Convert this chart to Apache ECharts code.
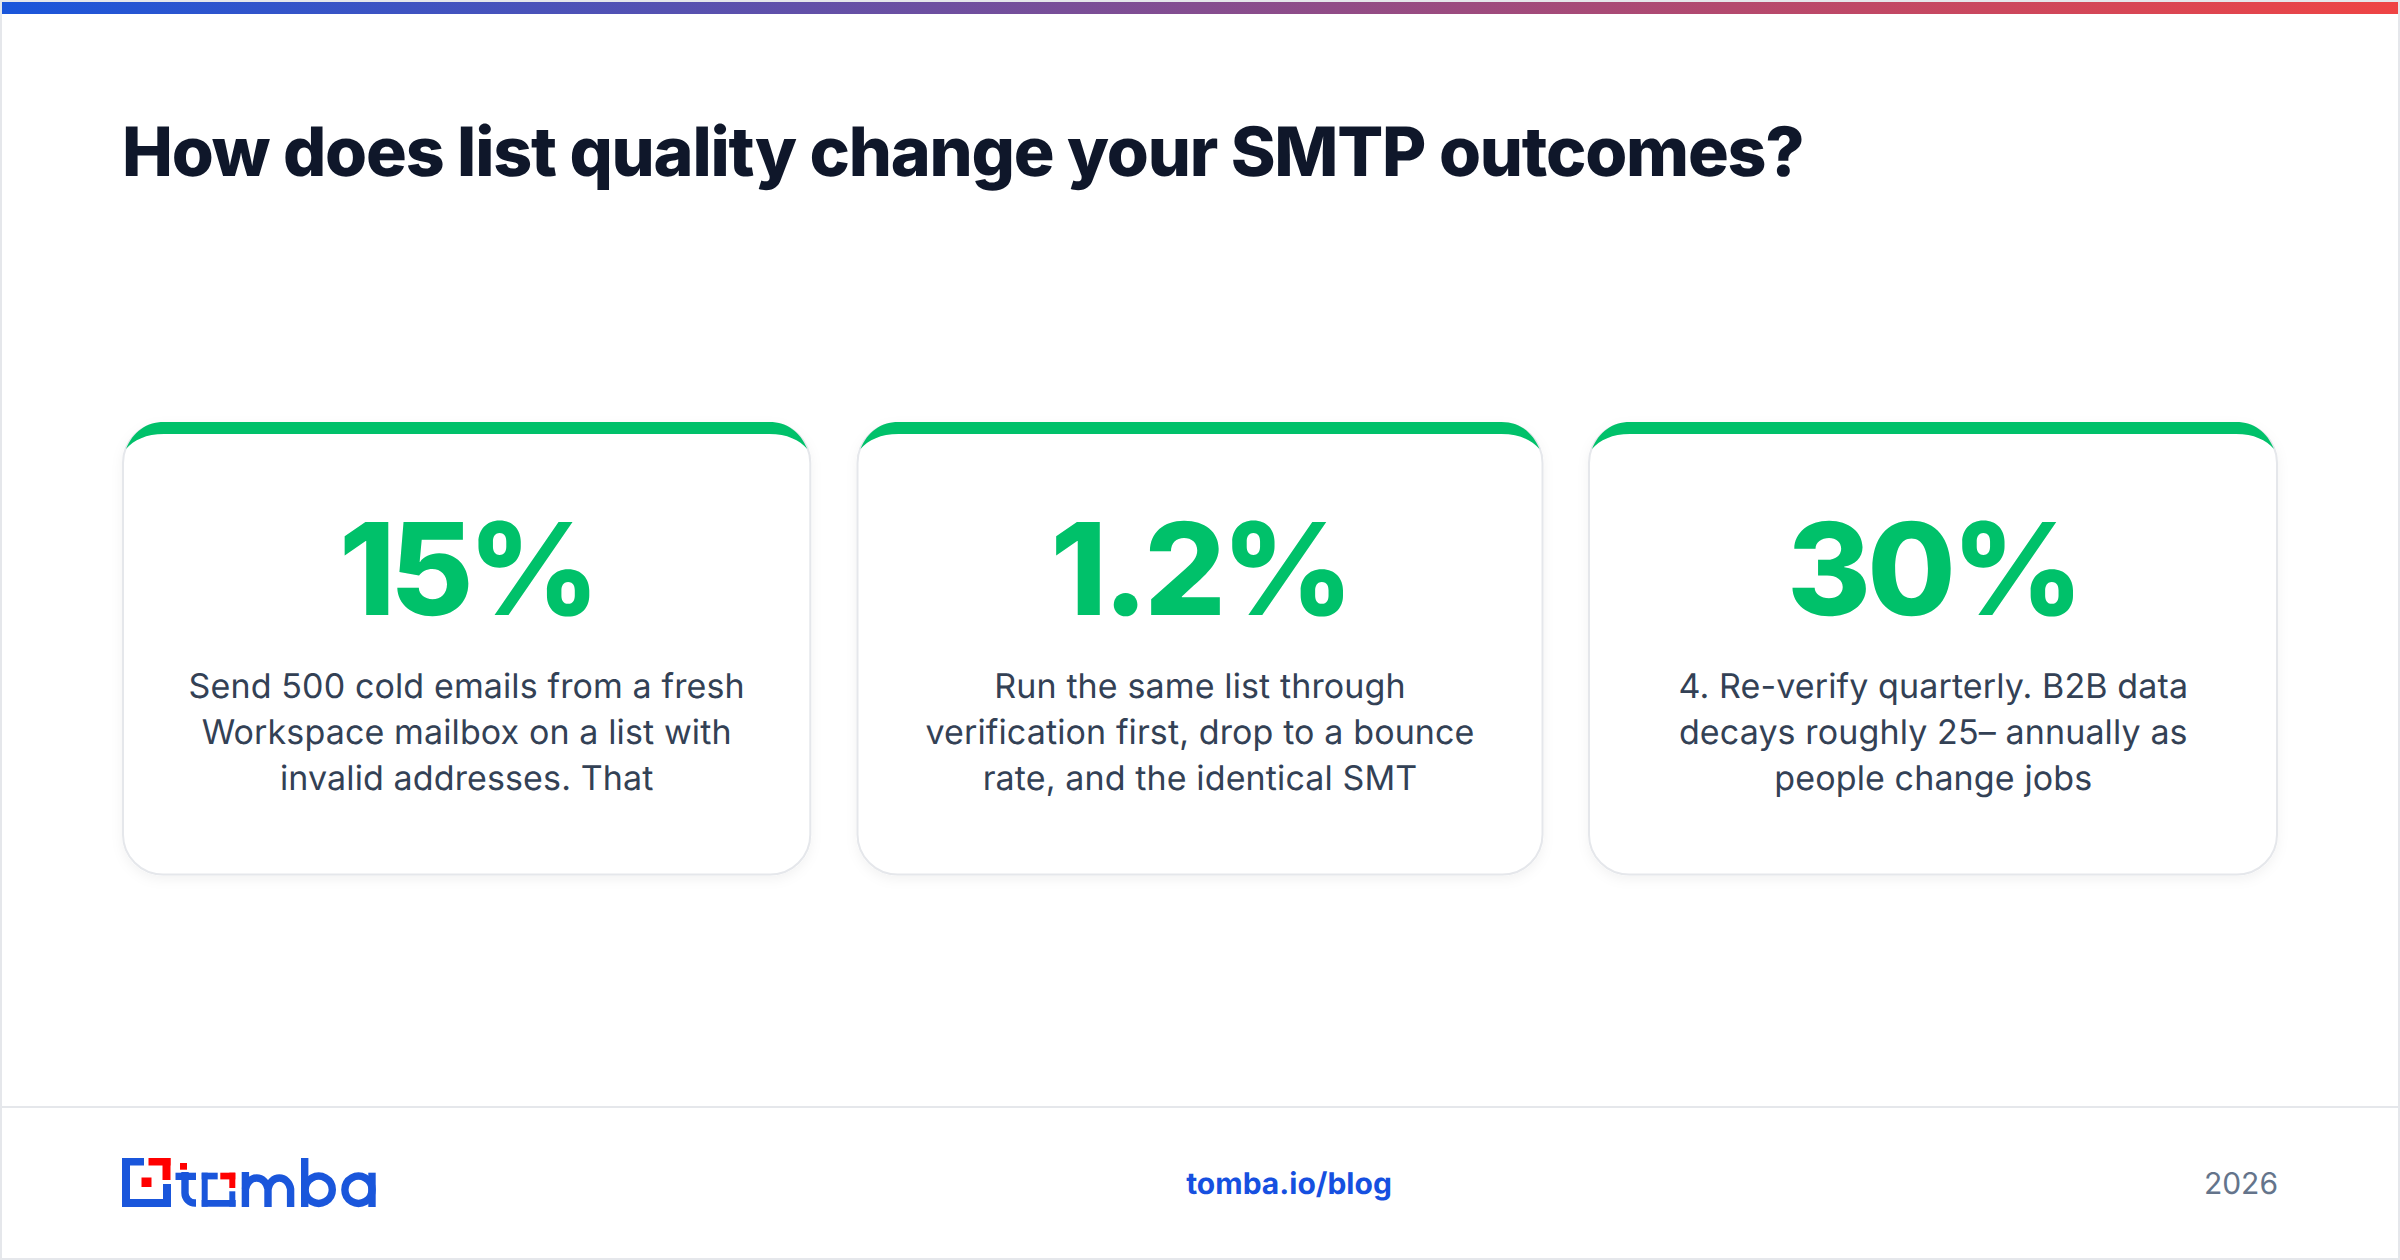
<!DOCTYPE html>
<html><head><meta charset="utf-8"><title>SMTP outcomes</title>
<style>html,body{margin:0;padding:0;background:#fff}#c{width:2400px;height:1260px}
text{font-optical-sizing:auto;text-rendering:geometricPrecision;font-kerning:normal}
text[style*="68px"]{font-variation-settings:'opsz' 32;letter-spacing:-1.2px}
text[style*="128px"]{font-variation-settings:'opsz' 32;letter-spacing:-4px}
text[style*="34px"]{font-variation-settings:'opsz' 17;letter-spacing:0.12px}
text[style*="30px"]{font-variation-settings:'opsz' 15}
</style>
<script src="https://cdn.jsdelivr.net/npm/echarts@6/dist/echarts.min.js"></script></head>
<body><div id="c"></div>
<script>
const heading = "How does list quality change your SMTP outcomes?";
const statValues = ["15%", "1.2%", "30%"];
const statTexts = [
  ["Send 500 cold emails from a fresh", "Workspace mailbox on a list with", "invalid addresses. That"],
  ["Run the same list through", "verification first, drop to a bounce", "rate, and the identical SMT"],
  ["4. Re-verify quarterly. B2B data", "decays roughly 25\u2013 annually as", "people change jobs"]
];
const footerLink = "tomba.io/blog";
const footerYear = "2026";

const FONT = "Inter, 'Noto Sans', sans-serif";
const GREEN = "#00c16a", BLUE = "#1a56db", RED = "#ff0000", LINE = "#e5e7eb";
const g = [];
let shapeId = 0;
const pathEl = (d, style) => {
  const name = 'logoPath' + (shapeId++);
  echarts.graphic.registerShape(name, echarts.graphic.extendPath(d));
  g.push({type:name, style});
};
// frame
g.push({type:'rect',shape:{x:0,y:0,width:2400,height:1260},style:{fill:'#fff'}});
g.push({type:'rect',shape:{x:1,y:1,width:2398,height:1258},style:{fill:'none',stroke:LINE,lineWidth:2}});
g.push({type:'rect',shape:{x:2,y:2,width:2396,height:12},style:{fill:new echarts.graphic.LinearGradient(0,0,1,0,[{offset:0,color:'#1a56db'},{offset:1,color:'#ef4444'}])}});
g.push({type:'rect',shape:{x:2,y:1106,width:2396,height:2},style:{fill:LINE}});
// heading
g.push({type:'text',x:122,y:152,style:{text:heading,font:"800 68px "+FONT,fill:'#0f172a',align:'left',verticalAlign:'middle'}});
// cards
const cardLefts = [122, 856.5, 1588], cardWidths = [689.3, 687, 690];
const textCenters = [466.7, 1200, 1933.3];
const cardTop = 422, cardBottom = 875.5, cardR = 40;
statValues.forEach((v,i)=>{
  const x = cardLefts[i], cardW = cardWidths[i], cx = textCenters[i];
  g.push({type:'rect',shape:{x:x+1,y:cardTop+1,width:cardW-2,height:cardBottom-cardTop-2,r:cardR},
    style:{fill:'#fff',stroke:LINE,lineWidth:2,shadowBlur:12,shadowOffsetY:4,shadowColor:'rgba(0,0,0,0.05)'}});
  const l = x+4, r = x+cardW-4;
  pathEl(`M${l} 449 C${l+7} 432 ${l+20} 422 ${l+38} 422 L${r-38} 422 C${r-20} 422 ${r-7} 432 ${r} 449 C${r-8} 440 ${r-20} 434 ${r-38} 434 L${l+38} 434 C${l+20} 434 ${l+8} 440 ${l} 449 Z`,{fill:GREEN});
  g.push({type:'text',x:cx,y:568,style:{text:v,font:"800 128px "+FONT,fill:GREEN,align:'center',verticalAlign:'middle'}});
  statTexts[i].forEach((line,j)=>{
    g.push({type:'text',x:cx,y:686+46*j,style:{text:line,font:"400 34px "+FONT,fill:'#334155',align:'center',verticalAlign:'middle'}});
  });
});
// footer
g.push({type:'text',x:1289,y:1184,style:{text:footerLink,font:"700 30px "+FONT,fill:'#1650e0',align:'center',verticalAlign:'middle'}});
g.push({type:'text',x:2278,y:1184,style:{text:footerYear,font:"400 30px "+FONT,fill:'#64748b',align:'right',verticalAlign:'middle'}});
// logo
const rc=(x,y,w,h,f)=>g.push({type:'rect',shape:{x,y,width:w,height:h},style:{fill:f}});
rc(122,1158,8,49,BLUE);rc(122,1158,22,7.5,BLUE);rc(122,1199,49,8,BLUE);rc(163,1184,8,23,BLUE);
rc(148.5,1158,22,7.5,RED);rc(162.5,1158,8,22,RED);rc(141.5,1177.5,10,9.5,RED);
rc(180,1163,7,6.7,RED);
rc(175.5,1172.7,20.5,7.3,BLUE);
const st=(d)=>pathEl(d,{fill:'none',stroke:BLUE,lineWidth:7.4});
st("M185 1172 V1193 A10 10 0 0 0 195 1203 H196");
rc(201.7,1172.7,16,6.7,BLUE);rc(201.7,1172.7,6,34,BLUE);rc(201.7,1200,34,6.7,BLUE);rc(229.3,1191.3,6,15.4,BLUE);
rc(220.3,1172.7,15,6.7,RED);rc(229.3,1172.7,6,15.3,RED);
st("M245.4 1207 V1172");
st("M245.4 1189 A11.5 13.5 0 0 1 268 1189 V1207");
st("M268 1189 A11.5 13.5 0 0 1 290.6 1189 V1207");
st("M304.7 1158 V1207");
g.push({type:'circle',shape:{cx:318.7,cy:1189.7,r:13.6},style:{fill:'none',stroke:BLUE,lineWidth:7.4}});
g.push({type:'circle',shape:{cx:358.5,cy:1189.7,r:13.6},style:{fill:'none',stroke:BLUE,lineWidth:7.4}});
st("M372 1172.7 V1207");

const chart = echarts.init(document.getElementById('c'),null,{renderer:'svg',width:2400,height:1260});
chart.setOption({animation:false,backgroundColor:'#fff',graphic:{elements:g}});
// the "15" pair sits tighter in the reference
chart.getDom().querySelectorAll('text').forEach(t=>{ if(t.textContent===statValues[0]) t.style.letterSpacing='-5.5px'; });
</script></body></html>
